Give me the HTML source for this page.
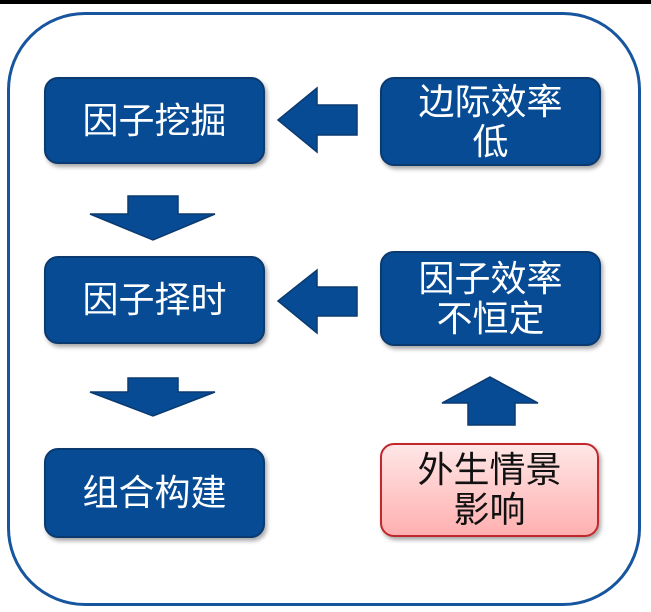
<!DOCTYPE html>
<html><head><meta charset="utf-8"><style>
body{margin:0;width:651px;height:612px;background:#fff;position:relative;overflow:hidden;font-family:"Liberation Sans","Noto Sans CJK SC",sans-serif}
.bar{position:absolute;left:0;top:0;width:651px;height:4px;background:#000}
.outer{position:absolute;left:7px;top:12px;width:628px;height:588px;border:3.5px solid #17569e;border-radius:78px}
.b{position:absolute;background:#064b94;border:2px solid #0b3a70;border-radius:14px;color:#fff;font-size:36px;line-height:40px;display:flex;align-items:center;justify-content:center;text-align:center;box-shadow:2px 3px 4px rgba(0,0,0,.35);box-sizing:border-box}
.p{background:linear-gradient(#ffe6e6,#ffb0b0);border-color:#c0282c;color:#111}
svg{position:absolute;left:0;top:0}
</style></head><body>
<div class="bar"></div>
<div class="outer"></div>
<div class="b" style="left:44px;top:77px;width:221px;height:87px">因子挖掘</div>
<div class="b" style="left:380px;top:77px;width:221px;height:89px">边际效率<br>低</div>
<div class="b" style="left:44px;top:256px;width:221px;height:88px">因子择时</div>
<div class="b" style="left:380px;top:251px;width:221px;height:95px">因子效率<br>不恒定</div>
<div class="b" style="left:44px;top:448px;width:221px;height:90px">组合构建</div>
<div class="b p" style="left:380px;top:443px;width:219px;height:94px">外生情景<br>影响</div>
<svg width="651" height="612">
<g fill="#064b94" stroke="#0b3a70" stroke-width="1.5">
<polygon points="278,120 317,88 317,105 357,105 357,135 317,135 317,152"/>
<polygon points="278,301 317,270 317,287 357,287 357,316 317,316 317,333"/>
<polygon points="128,196 178,196 178,214 215,214 153,240 90,214 128,214"/>
<polygon points="128,378 178,378 178,392 215,392 153,416 90,392 128,392"/>
<polygon points="490,377 538,403 515,403 515,425 468,425 468,403 442,403"/>
</g>
</svg>
</body></html>
